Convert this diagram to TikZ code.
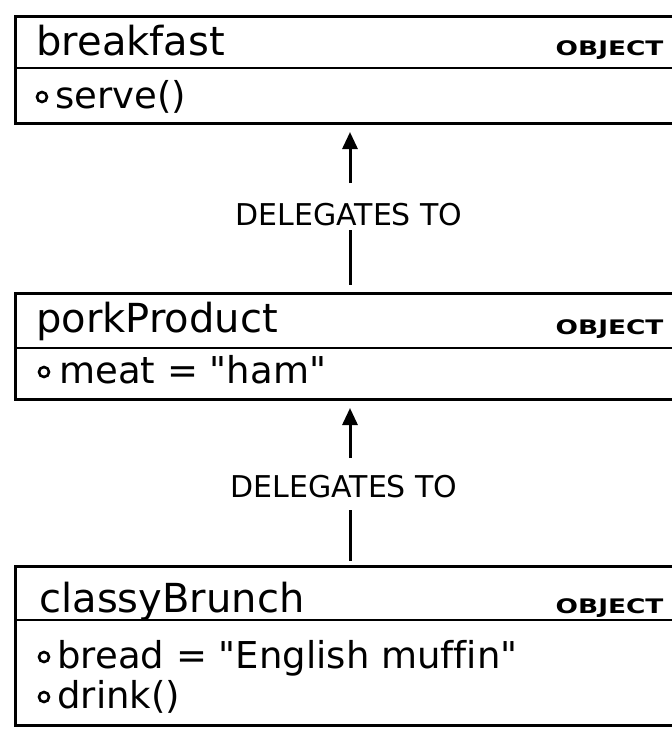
\documentclass[tikz,border=0pt]{standalone}
\usepackage{fontspec}
\setmainfont{DejaVu Sans}[Ligatures=TeXOff]
\usetikzlibrary{arrows.meta}
\begin{document}
\begin{tikzpicture}[x=1pt,y=-1pt, line width=3pt,
  objbox/.style={draw, line width=3pt, rectangle, anchor=north west, minimum width=700pt, inner sep=0pt},
  divider/.style={line width=2.6pt},
  title/.style={anchor=base west, inner sep=0pt, font=\fontsize{40}{44}\selectfont},
  tag/.style={anchor=base east, inner sep=0pt, font=\fontsize{20}{22}\selectfont\bfseries},
  item/.style={anchor=base west, inner sep=0pt, font=\fontsize{37}{40}\selectfont},
  lbl/.style={inner sep=0pt, font=\fontsize{30}{32}\selectfont},
  bullet/.style={circle, draw, line width=2.6pt, inner sep=0pt, minimum size=10pt},
  arr/.style={-{Triangle[length=17pt,width=15pt]}, line width=3pt, shorten >=7pt}]
\useasboundingbox (0,0) rectangle (672,729);
\clip (0,0) rectangle (672,729);

% box 1
\node[objbox, minimum height=107pt] (b1) at (14,15) {};
\coordinate (d1) at (14,68);
\draw[divider] (d1) -- ++(700,0);
\node[title] (t1) at (35,55) {breakfast};
\node[tag] (o1) at (665,55) {\scalebox{1.32}[1]{OBJECT}};
\node[bullet] (c1) at (42,97) {};
\node[item] (s1) at (54,108) {serve()};

% box 2
\node[objbox, minimum height=106pt] (b2) at (14,292) {};
\coordinate (d2) at (14,348);
\draw[divider] (d2) -- ++(700,0);
\node[title] (t2) at (35,332) {porkProduct};
\node[tag] (o2) at (665,334) {\scalebox{1.32}[1]{OBJECT}};
\node[bullet] (c2) at (44,372) {};
\node[item] (s2) at (58,383) {meat = "ham"};

% box 3
\node[objbox, minimum height=159pt] (b3) at (14,565) {};
\coordinate (d3) at (14,620);
\draw[divider] (d3) -- ++(700,0);
\node[title] (t3) at (38,612) {classyBrunch};
\node[tag] (o3) at (665,613) {\scalebox{1.32}[1]{OBJECT}};
\node[bullet] (c3) at (44,657) {};
\node[item] (s3) at (56,668) {bread = "English muf\kern0pt f\kern0pt in"};
\node[bullet] (c4) at (44,697) {};
\node[item] (s4) at (56,708) {drink()};

% connectors
\node[lbl] (l1) at (349,215) {DELEGATES TO};
\coordinate (a1) at (350,183);
\coordinate (a1b) at (350,230);
\draw[arr] (a1) -- (a1 |- b1.south);
\draw[line width=3pt] (a1b) -- ([yshift=7pt]a1b |- b2.north);

\node[lbl] (l2) at (344,487) {DELEGATES TO};
\coordinate (a2) at (350,458);
\coordinate (a2b) at (350,510);
\draw[arr] (a2) -- (a2 |- b2.south);
\draw[line width=3pt] (a2b) -- ([yshift=4pt]a2b |- b3.north);
\end{tikzpicture}
\end{document}
